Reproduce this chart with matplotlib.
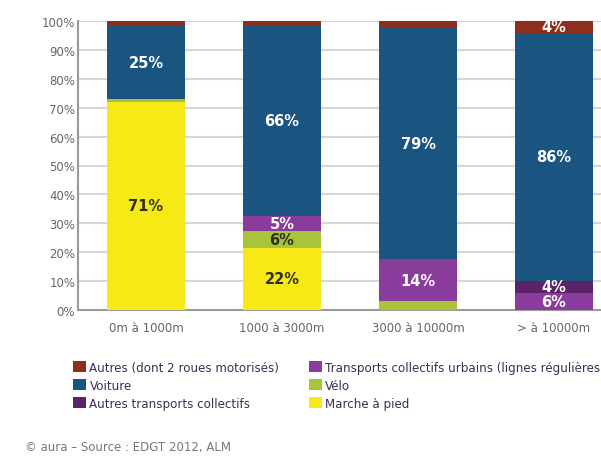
import numpy as np
import matplotlib.pyplot as plt
from matplotlib.patches import Patch

# distance classes
categories = ["0m à 1000m", "1000 à 3000m", "3000 à 10000m", "> à 10000m"]

# shares (%) per mode, bottom to top
marche = [72, 21.5, 0, 0]
velo = [1, 6, 3, 0]
tc_urbains = [0, 5, 14.5, 6]
autres_tc = [0, 0, 0, 4]
voiture = [25.5, 66, 80, 86]
autres = [1.5, 1.5, 2.5, 4]

# printed labels on the segments
lbl_marche = ["71%", "22%", "", ""]
lbl_velo = ["", "6%", "", ""]
lbl_tc_urbains = ["", "5%", "14%", "6%"]
lbl_autres_tc = ["", "", "", "4%"]
lbl_voiture = ["25%", "66%", "79%", "86%"]
lbl_autres = ["", "", "", "4%"]

series = [
    ("Marche à pied", marche, lbl_marche, "#f6e915", "#2e2e1e"),
    ("Vélo", velo, lbl_velo, "#a9c43a", "#2e2e1e"),
    ("Transports collectifs urbains (lignes régulières)", tc_urbains, lbl_tc_urbains, "#8a3c9c", "white"),
    ("Autres transports collectifs", autres_tc, lbl_autres_tc, "#5b2468", "white"),
    ("Voiture", voiture, lbl_voiture, "#1a5480", "white"),
    ("Autres (dont 2 roues motorisés)", autres, lbl_autres, "#8e2e1c", "white"),
]

fig = plt.figure(figsize=(6.01, 4.60), dpi=100)
ax = fig.add_axes([78 / 601, 1 - 311 / 460, (622 - 78) / 601, (311 - 22) / 460])

x = np.arange(len(categories))
bottom = np.zeros(len(categories))
for name, vals, lbls, col, tcol in series:
    vals = np.array(vals, dtype=float)
    ax.bar(x, vals, width=0.57, bottom=bottom, color=col, zorder=3)
    for i, t in enumerate(lbls):
        if t:
            ax.text(x[i], bottom[i] + vals[i] / 2, t, ha="center", va="center",
                    color=tcol, fontsize=10.5, fontweight="bold", zorder=4)
    bottom += vals

ax.set_xlim(-0.5, 3.5)
ax.set_ylim(0, 100)
ax.set_yticks(np.arange(0, 101, 10))
ax.set_yticklabels([f"{v}%" for v in range(0, 101, 10)])
ax.set_xticks(x)
ax.set_xticklabels(categories)
ax.tick_params(axis="both", length=0, colors="#666666", labelsize=8.5)
ax.tick_params(axis="x", pad=8)
ax.tick_params(axis="y", pad=2)
ax.yaxis.grid(True, color="#d6d6d6", linewidth=1.5, zorder=0)
ax.set_axisbelow(True)
for s in ["top", "right"]:
    ax.spines[s].set_visible(False)
for s in ["left", "bottom"]:
    ax.spines[s].set_color("#9a9a9a")
    ax.spines[s].set_linewidth(1.5)

# legend, column-major like the original (runs off the right edge, as in the source)
order = [5, 4, 3, 2, 1, 0]
handles = [Patch(facecolor=series[k][3]) for k in order]
labels = [series[k][0] for k in order]
fig.legend(handles, labels, ncol=2, loc="upper left",
           bbox_to_anchor=(62 / 601, 1 - 351 / 460), frameon=False,
           fontsize=8.6, handlelength=1.1, handleheight=1.1, handletextpad=0.3,
           labelspacing=0.42, columnspacing=2.45, labelcolor="#3a2f55")

fig.text(25 / 601, 1 - 448 / 460, "© aura – Source : EDGT 2012, ALM",
         fontsize=8.5, color="#777777", va="center", ha="left")

fig.savefig("out.png", dpi=100)
